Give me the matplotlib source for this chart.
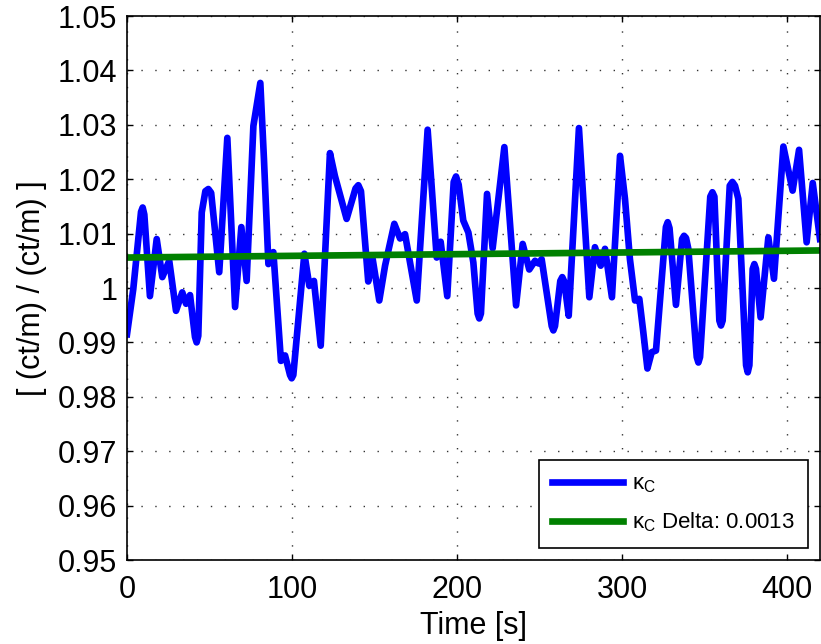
import numpy as np
import matplotlib
matplotlib.use("Agg")
import matplotlib.pyplot as plt

plt.rcParams['font.family'] = ['Liberation Sans', 'DejaVu Sans']
plt.rcParams['mathtext.fontset'] = 'custom'
plt.rcParams['mathtext.rm'] = 'Liberation Sans'
plt.rcParams['mathtext.it'] = 'Liberation Sans'

# kappa_C trace (time in s)
t = [0, 3.8, 8.5, 9.5, 10.5, 13.9, 18, 21.4, 25.6, 29.7, 33.5, 35.8, 38.2,
     41.2, 42.2, 43.2, 45.3, 47.5, 49.3, 51, 55.9, 60.8, 65.5, 69.3, 72.5, 76.6,
     80.8, 83, 85.7, 88.7, 93.3, 95.8, 98.8, 99.8, 100.8, 107.5, 110.5, 113.3,
     117.4, 123, 126, 133.1, 138.5, 140.2, 141.8, 146.2, 148.9, 152.9, 156.4,
     162, 165.5, 168.5, 175.6, 182.2, 187.7, 190.1, 194.1, 198, 199.4, 201,
     203.8, 206.9, 209.9, 212.5, 213.5, 214.5, 218.2, 221.6, 228.7, 235.8,
     239.8, 243.8, 247.3, 249.5, 251.3, 254.3, 257.4, 258.4, 259.4, 262.6,
     263.8, 265, 267.7, 273.9, 280.2, 283.6, 287.1, 289.7, 293.9, 298.8, 301.8,
     304.8, 307.9, 310.5, 312.9, 315.4, 318, 320.6, 326.6, 327.7, 328.8, 332.7,
     336.4, 337.6, 338.8, 340.2, 345.3, 346.3, 347.3, 353.5, 354.8, 356, 359,
     360, 361, 365.3, 366.9, 368.5, 370.5, 375.2, 376.2, 377.2, 379.2, 380.2,
     381.2, 384, 388.7, 392.1, 397.8, 403.4, 407.3, 411.9, 415.6, 420]
kappa = [0.9915, 0.9998, 1.0140, 1.0148, 1.0135, 0.9985, 1.0090, 1.0020, 1.0050,
         0.9958, 0.9992, 0.9971, 0.9987,
         0.9910, 0.9900, 0.9912, 1.0139, 1.0178, 1.0182, 1.0175, 1.0029, 1.0276,
         0.9965, 1.0112, 1.0013, 1.0298,
         1.0377, 1.0237, 1.0044, 1.0066, 0.9866, 0.9876, 0.9840, 0.9834, 0.9840,
         1.0063, 1.0004, 1.0013,
         0.9894, 1.0248, 1.0206, 1.0127, 1.0183, 1.0189, 1.0178, 1.0012, 1.0053,
         0.9977, 1.0041,
         1.0118, 1.0091, 1.0099, 0.9977, 1.0291, 1.0056, 1.0085, 0.9985, 1.0195,
         1.0205, 1.0190,
         1.0124, 1.0102, 1.0047, 0.9953, 0.9944, 0.9953, 1.0173, 1.0073, 1.0259,
         0.9968,
         1.0081, 1.0034, 1.0050, 1.0045, 1.0053, 0.9992, 0.9930, 0.9922, 0.9930,
         1.0013,
         1.0020, 1.0012, 0.9949, 1.0294, 0.9983, 1.0075, 1.0041, 1.0072, 0.9983,
         1.0243, 1.0164,
         1.0053, 0.9977, 0.9980, 0.9919, 0.9852, 0.9882, 0.9885, 1.0112, 1.0121,
         1.0110, 0.9969,
         1.0090, 1.0096, 1.0092, 1.0072, 0.9873, 0.9863, 0.9873, 1.0168, 1.0176,
         1.0168, 0.9940,
         0.9931, 0.9940, 1.0188, 1.0195, 1.0188, 1.0164, 0.9858, 0.9845, 0.9858,
         1.0035, 1.0044,
         1.0035, 0.9946, 1.0093, 1.0017, 1.0260, 1.0179, 1.0254, 1.0084, 1.0193,
         1.0090]

# linear fit (drift) line
t_fit = [0, 420]
kappa_fit = [1.0056, 1.0069]

fig = plt.figure(figsize=(8.21, 6.44), dpi=100)
ax = fig.add_axes([127/821, 84/644, 693/821, 544/644])

ax.plot(t, kappa, color='#0000ff', lw=4.8, solid_joinstyle='round',
        label=r'$\kappa_{\mathrm{C}}$')
ax.plot(t_fit, kappa_fit, color='#008000', lw=4.8,
        label=r'$\kappa_{\mathrm{C}}$ Delta: 0.0013')

ax.set_xlim(0, 420)
ax.set_ylim(0.95, 1.05)
ax.set_xticks([0, 100, 200, 300, 400])
ax.set_yticks(np.arange(0.95, 1.0501, 0.01))
ax.set_yticklabels(['0.95', '0.96', '0.97', '0.98', '0.99', '1', '1.01', '1.02',
                    '1.03', '1.04', '1.05'])
ax.tick_params(direction='in', length=4, width=1, top=True, right=True,
               labelsize=22, pad=7)
ax.tick_params(axis='x', pad=11)
for s in ax.spines.values():
    s.set_linewidth(1.2)
ax.grid(True, color='0.2', lw=1.0, linestyle=(0, (1, 9)))

ax.set_xlabel('Time [s]', fontsize=22, labelpad=4)
ax.set_ylabel('[ (ct/m) / (ct/m) ]', fontsize=22, labelpad=8)

leg = ax.legend(loc='lower right', fontsize=16, handlelength=3.2,
                handletextpad=0.4, fancybox=False, framealpha=1,
                edgecolor='black', borderaxespad=0.55, labelspacing=0.7,
                borderpad=0.6)
leg.get_frame().set_linewidth(1.2)

fig.savefig('out.png', dpi=100)
